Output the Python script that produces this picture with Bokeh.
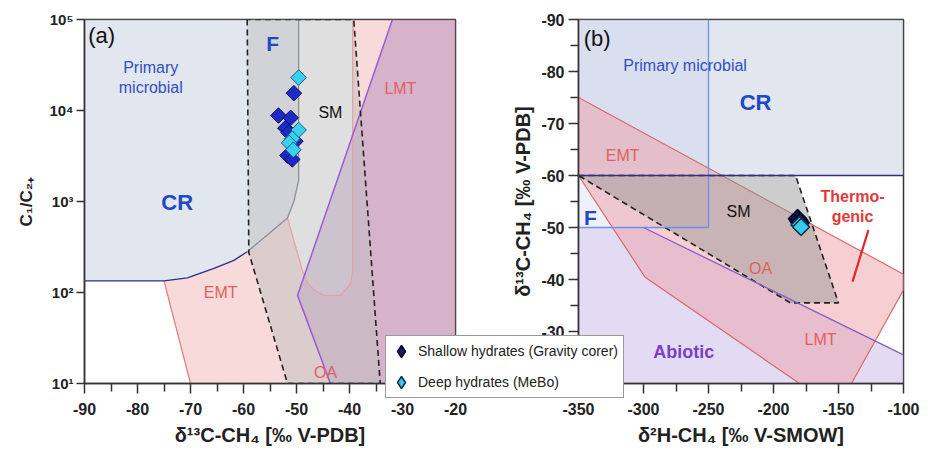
import numpy as np
from bokeh.plotting import figure
from bokeh.models import Range1d, FixedTicker, Legend, LegendItem
from bokeh.layouts import row
from bokeh.core.properties import value
from bokeh.embed import file_html
from bokeh.resources import INLINE

FONT = "Liberation Sans"

# ---------------- panel (a): d13C-CH4 vs C1/C2+ ----------------
a_xticks = [-90, -80, -70, -60, -50, -40, -30, -20]
a_xlabels = ["-90", "-80", "-70", "-60", "-50", "-40", "-30", "-20"]
a_xminor = [-85, -75, -65, -55, -45, -35, -25]
a_yticks = [10, 100, 1000, 10000, 100000]
a_ylabels = ["10¹", "10²", "10³", "10⁴", "10⁵"]

shallow_a_d13c = [-50.5, -53.4, -51.1, -52.1, -51.5, -50.2, -51.7, -50.8]
shallow_a_c1c2 = [15500, 8800, 8300, 6400, 5700, 4600, 3200, 2900]
deep_a_d13c = [-49.6, -49.6, -50.8, -51.4, -50.6]
deep_a_c1c2 = [23000, 6100, 4900, 4400, 3700]

# genetic fields, panel (a)
cr_a_x = [-90, -90, -75, -70.6, -65.7, -61.9, -59.3, -51.7, -50.5, -49.6, -49.6]
cr_a_y = [1e5, 134, 134, 145, 183, 224, 280, 660, 1000, 1700, 1e5]
cr_a_bottom_x = [-90, -75, -70.6, -65.7, -61.9, -59.3]
cr_a_bottom_y = [134, 134, 145, 183, 224, 280]
cr_a_right_x = [-59.3, -51.7, -50.5, -49.6, -49.6]
cr_a_right_y = [280, 660, 1000, 1700, 1e5]
therm_a_x = [-75, -70.6, -65.7, -61.9, -59.3, -51.7, -48.9, -47.9, -46.5, -44.9,
             -41.7, -39.8, -39.4, -39.4, -20, -20, -70]
therm_a_y = [134, 145, 183, 224, 280, 660, 175, 126, 105, 93,
             93, 126, 175, 1e5, 1e5, 10, 10]
therm_a_left_x = [-75, -70]
therm_a_left_y = [134, 10]
therm_a_u_x = [-51.7, -48.9, -47.9, -46.5, -44.9, -41.7, -39.8, -39.4, -39.4]
therm_a_u_y = [660, 175, 126, 105, 93, 93, 126, 175, 1e5]
abio_a_x = [-43.6, -49.8, -31.9, -20, -20]
abio_a_y = [10, 93, 1e5, 1e5, 10]
abio_a_line_x = [-43.6, -49.8, -31.9]
abio_a_line_y = [10, 93, 1e5]
sm_a_x = [-59.3, -59.0, -51.7, -34.2, -39.2]
sm_a_y = [1e5, 275, 10, 10, 1e5]

# ---------------- panel (b): d2H-CH4 vs d13C-CH4 ----------------
b_xticks = [-350, -300, -250, -200, -150, -100]
b_xlabels = ["-350", "-300", "-250", "-200", "-150", "-100"]
b_xminor = [-325, -275, -225, -175, -125]
b_yticks = [-90, -80, -70, -60, -50, -40, -30, -20]
b_ylabels = ["-90", "-80", "-70", "-60", "-50", "-40", "-30", "-20"]
b_yminor = [-85, -75, -65, -55, -45, -35, -25]

shallow_b_d2h = [-181.5, -180.5, -179.5]
shallow_b_d13c = [-51.7, -51.3, -50.9]
deep_b_d2h = [-180.0, -178.8]
deep_b_d13c = [-50.5, -50.1]

cr_b_x = [-350, -100, -100, -350]
cr_b_y = [-90, -90, -60, -60]
f_b_x = [-350, -250, -250, -350]
f_b_y = [-90, -90, -50, -50]
f_b_line_x = [-250, -250, -350]
f_b_line_y = [-90, -50, -50]
cr_b_line_x = [-350, -100]
cr_b_line_y = [-60, -60]
therm_b_x = [-350, -100, -100, -140, -180, -299, -350]
therm_b_y = [-75, -41, -38, -20, -20, -40.5, -60]
abio_b_x = [-350, -300, -100, -100, -350]
abio_b_y = [-50, -50, -25.5, -20, -20]
abio_b_line_x = [-300, -100]
abio_b_line_y = [-50, -25.5]
sm_b_x = [-350, -183, -150, -187]
sm_b_y = [-60, -60, -35.5, -35.5]
thermo_pointer_x = [-127, -139.2]
thermo_pointer_y = [-49.5, -39.6]

legend_labels = ["Shallow hydrates (Gravity corer)", "Deep hydrates (MeBo)"]

BLUE_TXT = "#2347c6"
SALMON = "#e0605e"
PURPLE_TXT = "#7b3fc4"
SHALLOW_B = dict(fill_color="#151a6e", line_color="#05051e", line_width=1.5)
DEEP_B = dict(fill_color="#38c8f0", line_color="#0b3040", line_width=1.5)


def style(p):
    for ax in p.axis:
        ax.axis_line_color = "#333333"
        ax.axis_line_width = 1.5
        ax.major_tick_line_color = "#333333"
        ax.major_tick_line_width = 1.5
        ax.minor_tick_line_color = "#333333"
        ax.minor_tick_line_width = 1.5
        ax.major_tick_in = 0
        ax.minor_tick_in = 0
        ax.major_tick_out = 10
        ax.minor_tick_out = 8
        ax.major_label_text_font = FONT
        ax.major_label_text_font_style = "bold"
        ax.major_label_text_font_size = "16px"
        ax.major_label_text_color = "#222222"
        ax.axis_label_text_font = FONT
        ax.axis_label_text_font_style = "bold"
        ax.axis_label_text_font_size = "20px"
        ax.axis_label_text_color = "#222222"
    p.grid.visible = False
    p.outline_line_color = "#333333"
    p.outline_line_width = 1.5


def label(p, x, y, txt, color, size, bold=False, align="center", baseline="middle"):
    p.text(x=[x], y=[y], text=[txt], text_color=color, text_font=value(FONT),
           text_font_size=size, text_font_style="bold" if bold else "normal",
           text_align=align, text_baseline=baseline, text_line_height=1.15)


# ======================= figure (a) =======================
pa = figure(width=470, height=456, x_range=Range1d(-90, -20), y_range=Range1d(10, 1e5),
            y_axis_type="log", output_backend="svg", toolbar_location=None,
            min_border_left=84, min_border_right=15, min_border_top=19, min_border_bottom=73)
pa.background_fill_color = "white"

pa.patch(therm_a_x, therm_a_y, fill_color="#f0acac", fill_alpha=0.45, line_color=None)
pa.patch(abio_a_x, abio_a_y, fill_color="#b080b8", fill_alpha=0.45, line_color=None)
pa.patch(cr_a_x, cr_a_y, fill_color="#c5cddf", fill_alpha=0.5, line_color=None)
pa.patch(sm_a_x, sm_a_y, fill_color="#c0c0c0", fill_alpha=0.5, line_color=None)

pa.line(therm_a_left_x, therm_a_left_y, line_color="#e07a7a", line_width=1.2)
pa.line(therm_a_u_x, therm_a_u_y, line_color="#e8a0a0", line_width=1.2)
pa.line(abio_a_line_x, abio_a_line_y, line_color="#9b5ad6", line_width=1.5)
pa.line(cr_a_bottom_x, cr_a_bottom_y, line_color="#2b3080", line_width=1.3)
pa.line(cr_a_right_x, cr_a_right_y, line_color="#8c8f9c", line_width=1.3)
pa.patch(sm_a_x, sm_a_y, fill_color=None, line_color="#222222", line_width=1.6, line_dash="6 4")

label(pa, -89.3, 10 ** 4.965, "(a)", "#111111", "22px", align="left", baseline="top")
label(pa, -54.5, 10 ** 4.736, "F", BLUE_TXT, "21px", bold=True)
label(pa, -77.5, 10 ** 4.36, "Primary\nmicrobial", "#3050c0", "16px")
label(pa, -43.6, 10 ** 3.978, "SM", "#111111", "16px")
label(pa, -72.5, 10 ** 2.989, "CR", BLUE_TXT, "22px", bold=True)
label(pa, -30.4, 10 ** 4.24, "LMT", SALMON, "16px")
label(pa, -64.3, 10 ** 2.0, "EMT", SALMON, "16px")
label(pa, -44.5, 10 ** 1.121, "OA", SALMON, "16px")

pa.scatter(shallow_a_d13c, shallow_a_c1c2, marker="square", angle=np.pi / 4, size=11,
           fill_color="#1c2ac8", line_color="#0d0d55", line_width=1)
pa.scatter(deep_a_d13c, deep_a_c1c2, marker="square", angle=np.pi / 4, size=11,
           fill_color="#3cd0f0", line_color="#1a5a7a", line_width=1)

pa.xaxis.ticker = FixedTicker(ticks=a_xticks, minor_ticks=a_xminor)
pa.xaxis.major_label_overrides = dict(zip(a_xticks, a_xlabels))
pa.yaxis.ticker = FixedTicker(ticks=a_yticks, minor_ticks=[])
pa.yaxis.major_label_overrides = dict(zip(a_yticks, a_ylabels))
pa.xaxis.axis_label = "δ¹³C-CH₄ [‰ V-PDB]"
pa.yaxis.axis_label = "C₁/C₂₊"
style(pa)
pa.xaxis.major_label_standoff = 9
pa.xaxis.axis_label_standoff = 6
pa.yaxis.major_tick_out = 8
pa.yaxis.major_label_standoff = 3
pa.yaxis.major_label_text_font_size = "15px"
pa.yaxis.axis_label_standoff = 10
pa.yaxis.axis_label_text_font_size = "17px"

# ======================= figure (b) =======================
pb = figure(width=555, height=456, x_range=Range1d(-350, -100), y_range=Range1d(-20, -90),
            output_backend="svg", toolbar_location=None,
            min_border_left=203, min_border_right=27, min_border_top=19, min_border_bottom=73)
pb.border_fill_color = None
pb.background_fill_color = "white"
pb.margin = (0, 0, 0, -95)

pb.patch(cr_b_x, cr_b_y, fill_color="#c5cddf", fill_alpha=0.5, line_color=None)
pb.patch(f_b_x, f_b_y, fill_color="#c8d2f0", fill_alpha=0.3, line_color=None)
pb.patch(abio_b_x, abio_b_y, fill_color="#c8b8e8", fill_alpha=0.5, line_color=None)
pb.patch(therm_b_x, therm_b_y, fill_color="#eea0a8", fill_alpha=0.5,
         line_color="#d86a6a", line_width=1.2)
pb.patch(sm_b_x, sm_b_y, fill_color="#909090", fill_alpha=0.45,
         line_color="#222222", line_width=1.6, line_dash="6 4")
pb.line(abio_b_line_x, abio_b_line_y, line_color="#8060c8", line_width=1.3)
pb.line(f_b_line_x, f_b_line_y, line_color="#6f8fe8", line_width=1.3)
pb.line(cr_b_line_x, cr_b_line_y, line_color="#303080", line_width=1.5)
pb.line(thermo_pointer_x, thermo_pointer_y, line_color="#e02828", line_width=2.2)

label(pb, -346, -88.8, "(b)", "#111111", "22px", align="left", baseline="top")
label(pb, -268, -81.2, "Primary microbial", "#3050c0", "16px")
label(pb, -213.8, -74.1, "CR", BLUE_TXT, "22px", bold=True)
label(pb, -316, -63.9, "EMT", SALMON, "16px")
label(pb, -226.9, -53.0, "SM", "#111111", "16px")
label(pb, -340.8, -52.0, "F", BLUE_TXT, "21px", bold=True)
label(pb, -210, -42.2, "OA", SALMON, "16px")
label(pb, -163.8, -28.4, "LMT", SALMON, "16px")
label(pb, -269, -26.1, "Abiotic", PURPLE_TXT, "18px", bold=True)
label(pb, -139.2, -54.0, "Thermo-\ngenic", "#e03a3a", "16px", bold=True)

pb.scatter(shallow_b_d2h, shallow_b_d13c, marker="square", angle=np.pi / 4, size=13, **SHALLOW_B)
pb.scatter(deep_b_d2h, deep_b_d13c, marker="square", angle=np.pi / 4, size=12, **DEEP_B)

pb.xaxis.ticker = FixedTicker(ticks=b_xticks, minor_ticks=b_xminor)
pb.xaxis.major_label_overrides = dict(zip(b_xticks, b_xlabels))
pb.yaxis.ticker = FixedTicker(ticks=b_yticks, minor_ticks=b_yminor)
pb.yaxis.major_label_overrides = dict(zip(b_yticks, b_ylabels))
pb.xaxis.axis_label = "δ²H-CH₄ [‰ V-SMOW]"
pb.yaxis.axis_label = "δ¹³C-CH₄ [‰ V-PDB]"
style(pb)
pb.xaxis.major_label_standoff = 9
pb.xaxis.axis_label_standoff = 6
pb.yaxis.major_label_standoff = 4
pb.yaxis.axis_label_standoff = 4

# ============ legend layer (transparent, overlaps both panels) ============
pl = figure(width=245, height=456, x_range=Range1d(0, 1), y_range=Range1d(0, 1),
            output_backend="svg", toolbar_location=None, min_border=0,
            x_axis_location=None, y_axis_location=None)
pl.grid.visible = False
pl.outline_line_color = None
pl.background_fill_color = None
pl.border_fill_color = None
pl.margin = (0, 0, 0, -545)
try:
    pl.frame_align = False
except Exception:
    pass
# same series as panel (b); they fall outside this layer's view, only the legend shows
rl_sh = pl.scatter(shallow_b_d2h, shallow_b_d13c, marker="diamond", size=13, **SHALLOW_B)
rl_dp = pl.scatter(deep_b_d2h, deep_b_d13c, marker="diamond", size=13, **DEEP_B)

legend = Legend(items=[LegendItem(label=legend_labels[0], renderers=[rl_sh]),
                       LegendItem(label=legend_labels[1], renderers=[rl_dp])],
                location=(0, 58), orientation="vertical", padding=0, spacing=1, margin=0,
                glyph_width=30, glyph_height=30, label_height=30, label_standoff=2,
                label_width=205,
                label_text_font=FONT, label_text_font_size="14px", label_text_color="#222222",
                border_line_color="#333333", border_line_width=1,
                background_fill_color="white", background_fill_alpha=1.0)
pl.add_layout(legend)

layout = row(pa, pb, pl)
open("out.html", "w").write(file_html(layout, INLINE))
